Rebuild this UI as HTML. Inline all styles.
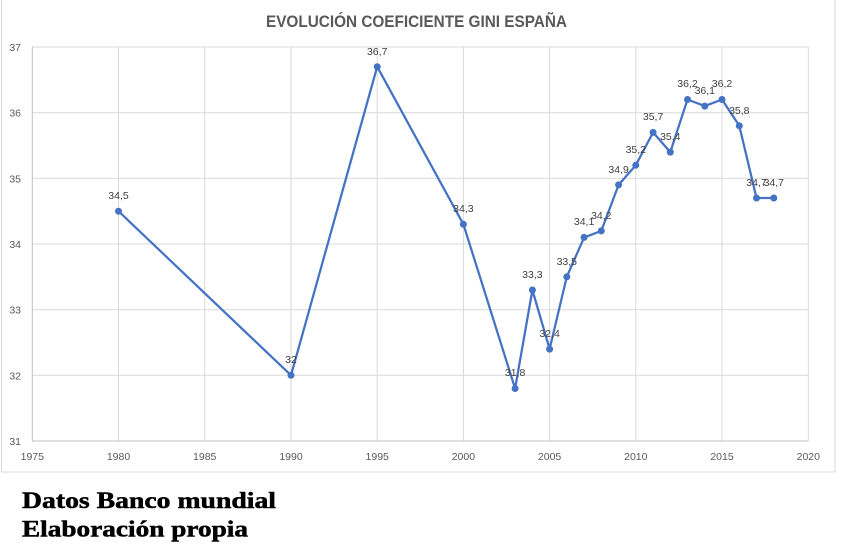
<!DOCTYPE html>
<html><head><meta charset="utf-8"><style>
html,body{margin:0;padding:0;background:#fff;}
svg{display:block;}
</style></head><body>
<svg width="857" height="551" viewBox="0 0 857 551" xmlns="http://www.w3.org/2000/svg">
<rect x="0" y="0" width="857" height="551" fill="#fff"/>
<rect x="1.5" y="-5" width="833.5" height="477" fill="#fff" stroke="#d9d9d9" stroke-width="1"/>
<text x="416.5" y="27" text-anchor="middle" font-family="Liberation Sans, sans-serif" font-weight="bold" font-size="16.5" fill="#595959" textLength="301" lengthAdjust="spacingAndGlyphs">EVOLUCIÓN COEFICIENTE GINI ESPAÑA</text>
<g stroke="#d9d9d9" stroke-width="1">
<line x1="32.3" y1="47" x2="808.3" y2="47"/>
<line x1="32.3" y1="112.7" x2="808.3" y2="112.7"/>
<line x1="32.3" y1="178.3" x2="808.3" y2="178.3"/>
<line x1="32.3" y1="244" x2="808.3" y2="244"/>
<line x1="32.3" y1="309.7" x2="808.3" y2="309.7"/>
<line x1="32.3" y1="375.3" x2="808.3" y2="375.3"/>
<line x1="118.5" y1="47" x2="118.5" y2="441"/>
<line x1="204.7" y1="47" x2="204.7" y2="441"/>
<line x1="291" y1="47" x2="291" y2="441"/>
<line x1="377.2" y1="47" x2="377.2" y2="441"/>
<line x1="463.4" y1="47" x2="463.4" y2="441"/>
<line x1="549.6" y1="47" x2="549.6" y2="441"/>
<line x1="635.8" y1="47" x2="635.8" y2="441"/>
<line x1="722" y1="47" x2="722" y2="441"/>
<line x1="808.3" y1="47" x2="808.3" y2="441"/>
</g>
<g stroke="#bfbfbf" stroke-width="1">
<line x1="32.3" y1="47" x2="32.3" y2="441"/>
<line x1="32.3" y1="441" x2="808.3" y2="441"/>
</g>
<g font-family="Liberation Sans, sans-serif" font-size="10.5" fill="#595959" text-anchor="end">
<text x="21" y="51">37</text>
<text x="21" y="116.7">36</text>
<text x="21" y="182.3">35</text>
<text x="21" y="248">34</text>
<text x="21" y="313.7">33</text>
<text x="21" y="379.3">32</text>
<text x="21" y="445">31</text>
</g>
<g font-family="Liberation Sans, sans-serif" font-size="10.5" fill="#595959" text-anchor="middle">
<text x="32.3" y="460">1975</text>
<text x="118.5" y="460">1980</text>
<text x="204.7" y="460">1985</text>
<text x="291" y="460">1990</text>
<text x="377.2" y="460">1995</text>
<text x="463.4" y="460">2000</text>
<text x="549.6" y="460">2005</text>
<text x="635.8" y="460">2010</text>
<text x="722" y="460">2015</text>
<text x="808.3" y="460">2020</text>
</g>
<polyline fill="none" stroke="#4472c4" stroke-width="2.25" stroke-linejoin="round" points="118.5,211.2 291,375.3 377.2,66.7 463.4,224.3 515.1,388.5 532.4,290 549.6,349.1 566.8,276.8 584.1,237.4 601.3,230.9 618.6,184.9 635.8,165.2 653.1,132.4 670.3,152.1 687.5,99.5 704.8,106.1 722,99.5 739.3,125.8 756.5,198 773.8,198"/>
<g fill="#4472c4">
<circle cx="118.5" cy="211.2" r="3.5"/><circle cx="291" cy="375.3" r="3.5"/><circle cx="377.2" cy="66.7" r="3.5"/><circle cx="463.4" cy="224.3" r="3.5"/><circle cx="515.1" cy="388.5" r="3.5"/><circle cx="532.4" cy="290" r="3.5"/><circle cx="549.6" cy="349.1" r="3.5"/><circle cx="566.8" cy="276.8" r="3.5"/><circle cx="584.1" cy="237.4" r="3.5"/><circle cx="601.3" cy="230.9" r="3.5"/><circle cx="618.6" cy="184.9" r="3.5"/><circle cx="635.8" cy="165.2" r="3.5"/><circle cx="653.1" cy="132.4" r="3.5"/><circle cx="670.3" cy="152.1" r="3.5"/><circle cx="687.5" cy="99.5" r="3.5"/><circle cx="704.8" cy="106.1" r="3.5"/><circle cx="722" cy="99.5" r="3.5"/><circle cx="739.3" cy="125.8" r="3.5"/><circle cx="756.5" cy="198" r="3.5"/><circle cx="773.8" cy="198" r="3.5"/>
</g>
<g font-family="Liberation Sans, sans-serif" font-size="10.5" fill="#404040" text-anchor="middle">
<text x="118.5" y="199">34,5</text>
<text x="291" y="363">32</text>
<text x="377.2" y="55">36,7</text>
<text x="463.4" y="212">34,3</text>
<text x="515.1" y="376">31,8</text>
<text x="532.4" y="278">33,3</text>
<text x="549.6" y="337">32,4</text>
<text x="566.8" y="265">33,5</text>
<text x="584.1" y="225">34,1</text>
<text x="601.3" y="219">34,2</text>
<text x="618.6" y="173">34,9</text>
<text x="635.8" y="153">35,2</text>
<text x="653.1" y="120">35,7</text>
<text x="670.3" y="140">35,4</text>
<text x="687.5" y="87">36,2</text>
<text x="704.8" y="94">36,1</text>
<text x="722" y="87">36,2</text>
<text x="739.3" y="114">35,8</text>
<text x="756.5" y="186">34,7</text>
<text x="773.8" y="186">34,7</text>
</g>
<g font-family="Liberation Serif, serif" font-weight="bold" font-size="23" fill="#000" stroke="#000" stroke-width="0.5">
<text x="22" y="508" textLength="254" lengthAdjust="spacingAndGlyphs">Datos Banco mundial</text>
<text x="22" y="536.5" textLength="226" lengthAdjust="spacingAndGlyphs">Elaboración propia</text>
</g>
</svg>
</body></html>
